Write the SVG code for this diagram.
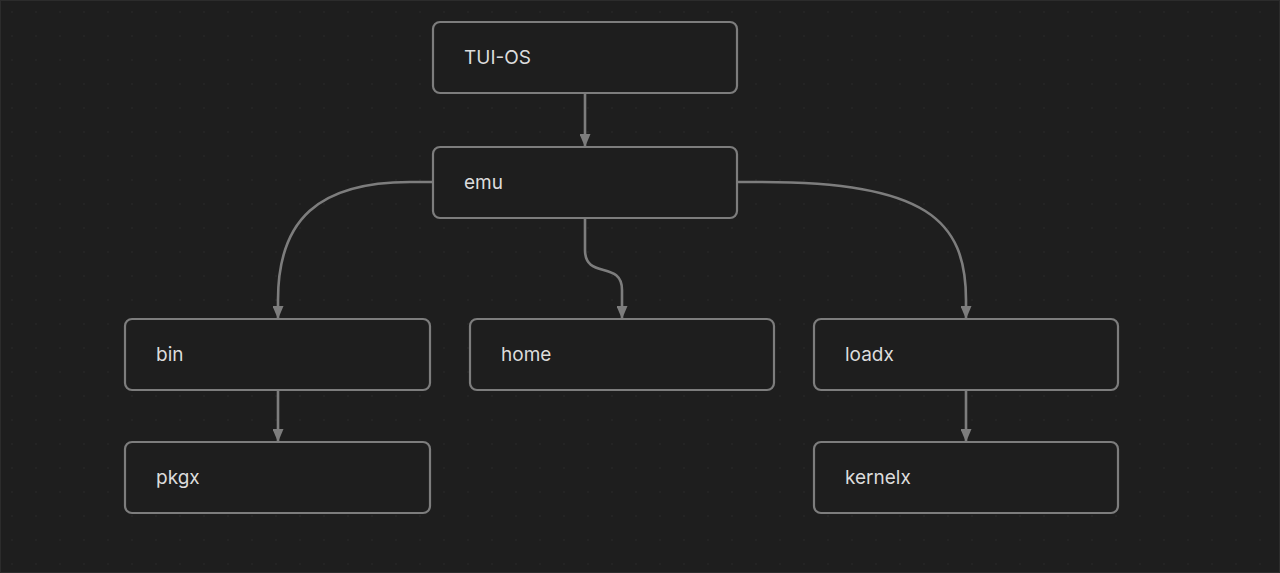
<svg xmlns="http://www.w3.org/2000/svg" width="1280" height="573" viewBox="0 0 1280 573">
<style>
.node rect{fill:#1e1e1e;stroke:#7d7d7d;stroke-width:2.2}
.node text{font-family:Inter,"Noto Sans",sans-serif;font-size:19px;fill:#dcdcdc}
.edge{fill:none;stroke:#7d7d7d;stroke-width:2.6;marker-end:url(#arr)}
</style>
<defs>
<marker id="arr" viewBox="0 0 13 11" refX="12" refY="5.5" markerWidth="13" markerHeight="11" markerUnits="userSpaceOnUse" orient="auto">
<path d="M0,0 L13,5.5 L0,11 Z" fill="#7d7d7d"/>
</marker>
<pattern id="dots" width="24" height="24" patternUnits="userSpaceOnUse">
<circle cx="12" cy="12" r="0.8" fill="#2a2a2a"/>
</pattern>
</defs>
<rect x="0" y="0" width="1280" height="573" fill="#1e1e1e"/>
<rect x="0" y="0" width="1280" height="573" fill="url(#dots)"/>
<rect x="0.5" y="0.5" width="1279" height="572" fill="none" stroke="#2c2c2c"/>
<g id="connectors">
<path class="edge" d="M585,93 L585,146"/>
<path class="edge" d="M433,182 L410,182 C318,182 278,220 278,300 L278,318"/>
<path class="edge" d="M585,218 L585,250 C585,280 622,260 622,290 L622,318"/>
<path class="edge" d="M737,182 L760,182 C926,182 966,220 966,300 L966,318"/>
<path class="edge" d="M278,390 L278,441"/>
<path class="edge" d="M966,390 L966,441"/>
</g>
<g id="tuios" class="node"><rect x="433" y="22" width="304" height="71" rx="7"/><text x="464" y="64">TUI-OS</text></g>
<g id="emu" class="node"><rect x="433" y="147" width="304" height="71" rx="7"/><text x="464" y="189">emu</text></g>
<g id="bin" class="node"><rect x="125" y="319" width="305" height="71" rx="7"/><text x="156" y="361">bin</text></g>
<g id="home" class="node"><rect x="470" y="319" width="304" height="71" rx="7"/><text x="501" y="361">home</text></g>
<g id="loadx" class="node"><rect x="814" y="319" width="304" height="71" rx="7"/><text x="845" y="361">loadx</text></g>
<g id="pkgx" class="node"><rect x="125" y="442" width="305" height="71" rx="7"/><text x="156" y="484">pkgx</text></g>
<g id="kernelx" class="node"><rect x="814" y="442" width="304" height="71" rx="7"/><text x="845" y="484">kernelx</text></g>
</svg>
